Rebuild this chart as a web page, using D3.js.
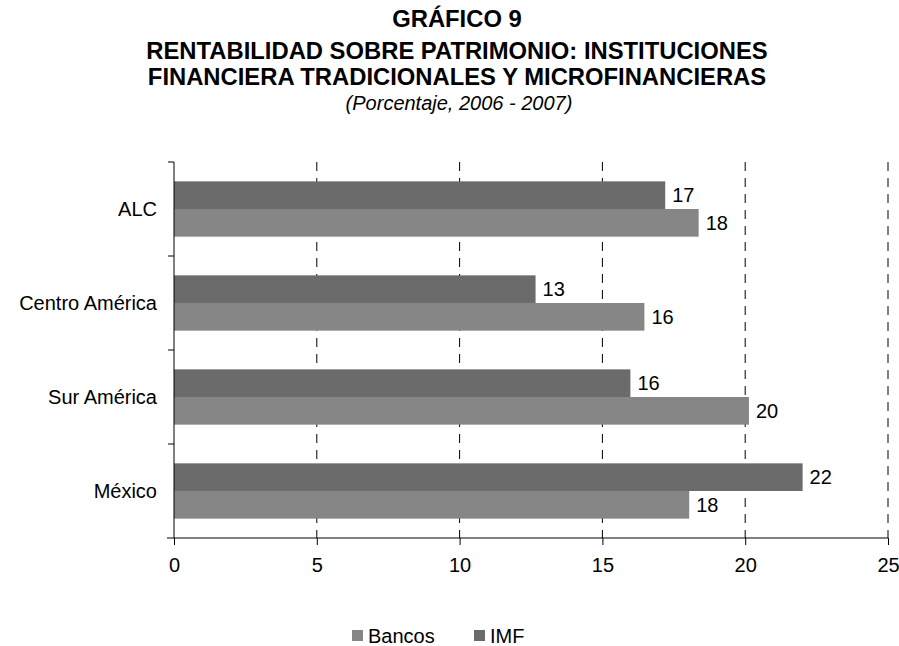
<!DOCTYPE html>
<html>
<head>
<meta charset="utf-8">
<script src="https://cdn.jsdelivr.net/npm/d3@7"></script>
<style>
  body { margin: 0; background: #fff; }
  svg { font-family: Arial, "Liberation Sans", sans-serif; }
</style>
</head>
<body>
<div id="chart"></div>
<script>
const categories = ["ALC", "Centro América", "Sur América", "México"];
const series = ["IMF", "Bancos"];
const imfValues = [17.2, 12.66, 15.98, 22.01];
const bancosValues = [18.37, 16.47, 20.13, 18.04];
const xTicks = [0, 5, 10, 15, 20, 25];
const legendItems = ["Bancos", "IMF"];
const colors = { IMF: "#6b6b6b", Bancos: "#868686" };

const width = 899, height = 646;
const margin = { top: 162, right: 11, bottom: 108, left: 174 };
const fontSize = 20;

const svg = d3.select("#chart").append("svg")
  .attr("width", width)
  .attr("height", height);

const x = d3.scaleLinear().domain([0, 25]).range([margin.left, width - margin.right]);
const y = d3.scaleBand().domain(categories).range([margin.top, height - margin.bottom]);
// two bars per category, about 27px each, with ~19px white space above and below
const yInner = d3.scaleBand().domain(series).range([0, y.bandwidth()]).paddingOuter(0.7).paddingInner(0);

// titles
const titles = svg.append("g").attr("text-anchor", "middle");
titles.append("text").attr("x", 457).attr("y", 27)
  .attr("font-weight", "bold").attr("font-size", 23.8).text("GRÁFICO 9");
titles.append("text").attr("x", 457).attr("y", 59)
  .attr("font-weight", "bold").attr("font-size", 23.8).text("RENTABILIDAD SOBRE PATRIMONIO: INSTITUCIONES");
titles.append("text").attr("x", 457).attr("y", 85)
  .attr("font-weight", "bold").attr("font-size", 23.8).text("FINANCIERA TRADICIONALES Y MICROFINANCIERAS");
titles.append("text").attr("x", 459).attr("y", 110)
  .attr("font-style", "italic").attr("font-size", 20).text("(Porcentaje, 2006 - 2007)");

// dashed vertical grid
svg.append("g")
  .selectAll("line")
  .data(xTicks.filter(d => d > 0))
  .join("line")
  .attr("x1", d => x(d)).attr("x2", d => x(d))
  .attr("y1", margin.top).attr("y2", height - margin.bottom)
  .attr("stroke", "#000")
  .attr("stroke-width", 1)
  .attr("stroke-dasharray", "9,7");

// bars
const rows = categories.map((c, i) => ({ cat: c, IMF: imfValues[i], Bancos: bancosValues[i] }));
const grp = svg.append("g")
  .selectAll("g")
  .data(rows)
  .join("g")
  .attr("transform", d => `translate(0,${y(d.cat)})`);

grp.selectAll("rect")
  .data(d => series.map(s => ({ s, v: d[s] })))
  .join("rect")
  .attr("x", x(0))
  .attr("y", d => yInner(d.s))
  .attr("width", d => x(d.v) - x(0))
  .attr("height", yInner.bandwidth())
  .attr("fill", d => colors[d.s]);

grp.selectAll("text")
  .data(d => series.map(s => ({ s, v: d[s] })))
  .join("text")
  .attr("x", d => x(d.v) + 7)
  .attr("y", d => yInner(d.s) + yInner.bandwidth() / 2)
  .attr("dy", "0.35em")
  .attr("font-size", fontSize)
  .text(d => d3.format(".0f")(d.v));

// x axis
const xAxis = svg.append("g")
  .attr("transform", `translate(0,${height - margin.bottom})`)
  .call(d3.axisBottom(x).tickValues(xTicks).tickSize(7).tickPadding(13));
xAxis.select(".domain").attr("d", `M${x(0) - 7},0H${x(25)}`);
xAxis.selectAll("text")
  .attr("font-size", fontSize)
  .attr("font-family", "Arial, 'Liberation Sans', sans-serif")
  .attr("fill", "#000");

// y axis: line with outward tick marks at the category boundaries
const yAxis = svg.append("g");
yAxis.append("line")
  .attr("x1", x(0)).attr("x2", x(0))
  .attr("y1", margin.top).attr("y2", height - margin.bottom)
  .attr("stroke", "#000");
yAxis.selectAll("line.tk")
  .data(categories)
  .join("line")
  .attr("class", "tk")
  .attr("x1", x(0) - 6).attr("x2", x(0))
  .attr("y1", d => y(d)).attr("y2", d => y(d))
  .attr("stroke", "#000");
yAxis.selectAll("text")
  .data(categories)
  .join("text")
  .attr("x", x(0) - 17)
  .attr("y", d => y(d) + y.bandwidth() / 2)
  .attr("dy", "0.35em")
  .attr("text-anchor", "end")
  .attr("font-size", fontSize)
  .text(d => d);

// legend
const legendX = [352, 474];
const legend = svg.append("g")
  .selectAll("g")
  .data(legendItems)
  .join("g")
  .attr("transform", (d, i) => `translate(${legendX[i]},630)`);
legend.append("rect").attr("width", 11).attr("height", 11).attr("fill", d => colors[d]);
legend.append("text").attr("x", 16).attr("y", 5.5).attr("dy", "0.35em").attr("font-size", fontSize).text(d => d);
</script>
</body>
</html>
